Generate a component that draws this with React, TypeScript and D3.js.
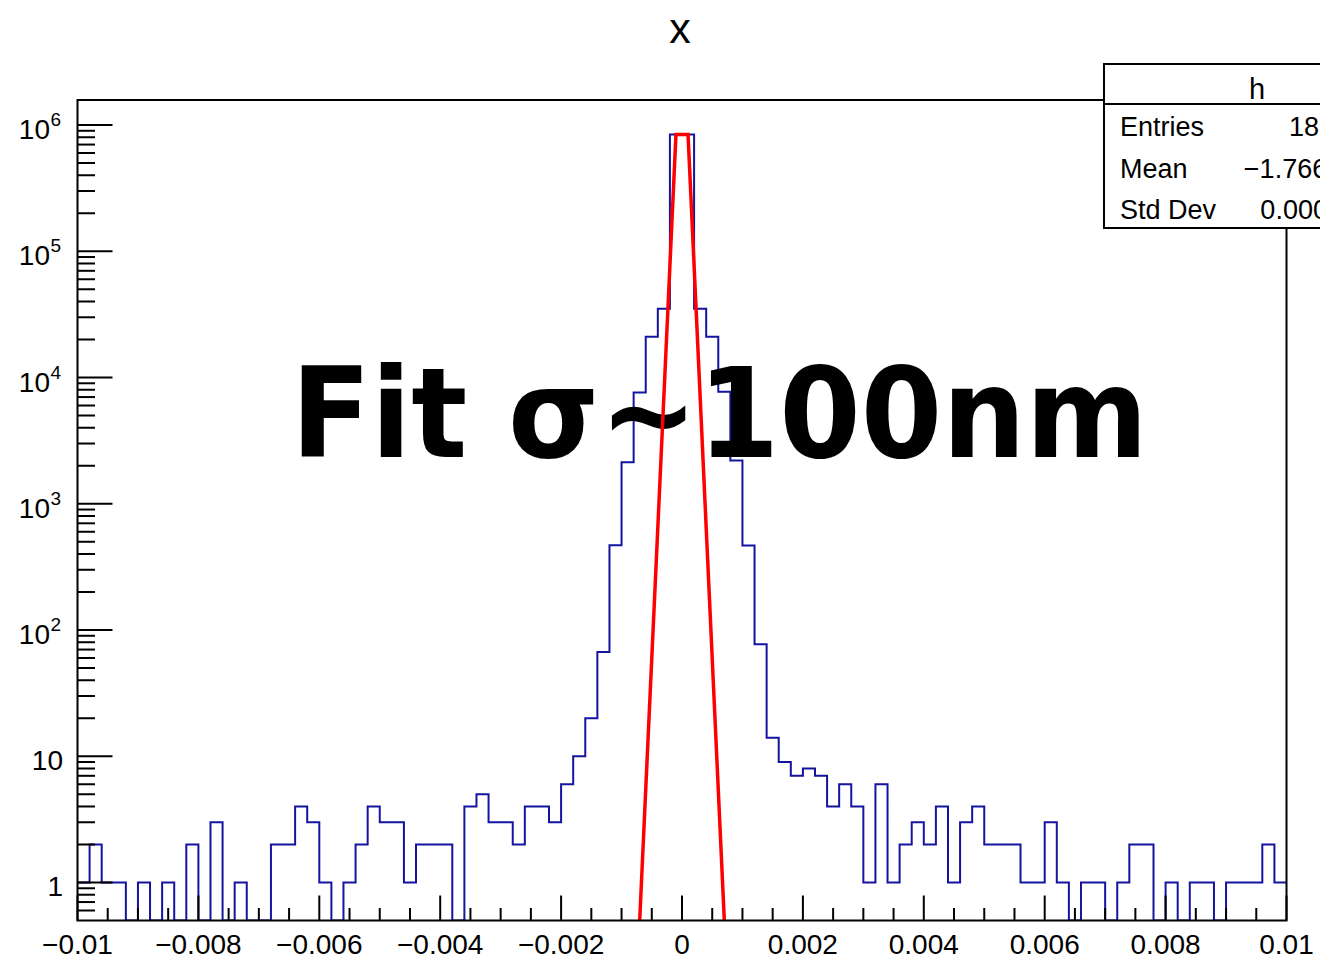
import React from "react";
import * as d3 from "d3";

// Histogram "h": 100 bins on [-0.01, 0.01]
const xMin = -0.01;
const xMax = 0.01;
const counts = [
  1, 2, 1, 1, 0, 1, 0, 1, 0, 2,
  0, 3, 0, 1, 0, 0, 2, 2, 4, 3,
  1, 0, 1, 2, 4, 3, 3, 1, 2, 2,
  2, 0, 4, 5, 3, 3, 2, 4, 4, 3,
  6, 10, 20, 67, 470, 2130, 7600, 21000, 35000, 840000,
  840000, 35000, 21000, 7700, 2200, 466, 77, 14, 9, 7,
  8, 7, 4, 6, 4, 1, 6, 1, 2, 3,
  2, 4, 1, 3, 4, 2, 2, 2, 1, 1,
  3, 1, 0, 1, 1, 0, 1, 2, 2, 0,
  1, 0, 1, 1, 0, 1, 1, 1, 2, 1,
];

// Gaussian fit curve as drawn (polyline points)
const fitX = [-0.0007, -0.0001, 0.0001, 0.0007];
const fitY = [0.5, 840000, 840000, 0.5];

const xTickValues = [-0.01, -0.008, -0.006, -0.004, -0.002, 0, 0.002, 0.004, 0.006, 0.008, 0.01];
const xTickLabels = ["\u22120.01", "\u22120.008", "\u22120.006", "\u22120.004", "\u22120.002", "0", "0.002", "0.004", "0.006", "0.008", "0.01"];
const yDecades = [1, 10, 100, 1e3, 1e4, 1e5, 1e6];
const yLabelBase = ["1", "10", "10", "10", "10", "10", "10"];
const yLabelExp = ["", "", "2", "3", "4", "5", "6"];

const statsTitle = "h";
const statsNames = ["Entries", "Mean", "Std Dev"];
const entries = counts.reduce((a, b) => a + b, 0);
const statsValues = [String(entries), "\u22121.766e\u221207", "0.0001094"];

const title = "x";
const annotation = "Fit \u03c3~100nm";

const W = 1320;
const H = 959;
const L = 77.5;
const R = 1286.5;
const T = 100;
const B = 920.5;
const FONT = "'Liberation Sans', Arial, Helvetica, sans-serif";

export default function App() {
  const x = d3.scaleLinear().domain([xMin, xMax]).range([L, R]);
  const y = d3.scaleLog().domain([0.5, 1.578e6]).range([B, T]);
  const nb = counts.length;
  const bw = (xMax - xMin) / nb;

  const yv = (c: number) => (c > 0 ? y(c) : B);
  const histPts: [number, number][] = counts.map((c, i) => [x(xMin + i * bw), yv(c)]);
  histPts.push([x(xMax), yv(counts[nb - 1])]);
  const histPath = d3.line().curve(d3.curveStepAfter)(histPts) || "";

  const fitPath =
    d3
      .line<number>()
      .x((_, i) => x(fitX[i]))
      .y((v) => y(v))(fitY) || "";

  // y minor ticks
  const yMinor: number[] = [];
  for (let e = -1; e <= 6; e++) {
    for (let k = 2; k <= 9; k++) {
      const v = k * Math.pow(10, e);
      if (v > 0.5 && v < 1.578e6) yMinor.push(v);
    }
  }
  // x minor ticks every 0.0005
  const xMinor: number[] = [];
  for (let i = 0; i <= 40; i++) {
    if (i % 4 !== 0) xMinor.push(xMin + i * 0.0005);
  }

  return (
    <svg
      width={W}
      height={H}
      style={{ position: "absolute", left: 0, top: 0, background: "#fff" }}
      fontFamily={FONT}
    >
      <rect x={0} y={0} width={W} height={H} fill="#fff" />
      <defs>
        <clipPath id="frameClip">
          <rect x={L} y={T} width={R - L} height={B - T} />
        </clipPath>
      </defs>

      <text x={680} y={43} fontSize={43} textAnchor="middle" fill="#000">
        {title}
      </text>

      {/* histogram */}
      <path d={histPath} fill="none" stroke="#1414a0" strokeWidth={2} clipPath="url(#frameClip)" />

      {/* overlaid annotation */}
      <text
        x={291}
        y={457}
        fontFamily="'DejaVu Sans', sans-serif"
        fontWeight="bold"
        fontSize={125}
        textLength={857}
        lengthAdjust="spacingAndGlyphs"
        fill="#000"
      >
        {annotation}
      </text>

      {/* fit function */}
      <path d={fitPath} fill="none" stroke="#ff0000" strokeWidth={3.5} clipPath="url(#frameClip)" />

      {/* frame */}
      <rect x={L} y={T} width={R - L} height={B - T} fill="none" stroke="#000" strokeWidth={2} />

      {/* x axis ticks */}
      {xTickValues.map((v) => (
        <line key={"xM" + v} x1={x(v)} x2={x(v)} y1={B} y2={B - 25} stroke="#000" strokeWidth={2} />
      ))}
      {xMinor.map((v, i) => (
        <line key={"xm" + i} x1={x(v)} x2={x(v)} y1={B} y2={B - 12.5} stroke="#000" strokeWidth={2} />
      ))}
      {xTickValues.map((v, i) => (
        <text key={"xl" + i} x={x(v)} y={954} fontSize={28} textAnchor="middle" fill="#000">
          {xTickLabels[i]}
        </text>
      ))}

      {/* y axis ticks */}
      {yDecades.map((v) => (
        <line key={"yM" + v} x1={L} x2={L + 35} y1={y(v)} y2={y(v)} stroke="#000" strokeWidth={2} />
      ))}
      {yMinor.map((v, i) => (
        <line key={"ym" + i} x1={L} x2={L + 17.5} y1={y(v)} y2={y(v)} stroke="#000" strokeWidth={2} />
      ))}
      {yDecades.map((v, i) =>
        yLabelExp[i] === "" ? (
          <text key={"yl" + i} x={63} y={y(v) + 14} fontSize={28} textAnchor="end" fill="#000">
            {yLabelBase[i]}
          </text>
        ) : (
          <g key={"yl" + i}>
            <text x={50} y={y(v) + 14} fontSize={28} textAnchor="end" fill="#000">
              {yLabelBase[i]}
            </text>
            <text x={50.5} y={y(v) + 1} fontSize={19} textAnchor="start" fill="#000">
              {yLabelExp[i]}
            </text>
          </g>
        )
      )}

      {/* statistics box */}
      <g>
        <rect x={1104} y={64} width={306} height={164} fill="#fff" stroke="#000" strokeWidth={2} />
        <line x1={1104} x2={1410} y1={104} y2={104} stroke="#000" strokeWidth={2} />
        <text x={1257} y={99} fontSize={29} textAnchor="middle" fill="#000">
          {statsTitle}
        </text>
        {statsNames.map((n, i) => (
          <g key={n}>
            <text x={1120} y={136 + i * 41.7} fontSize={27} fill="#000">
              {n}
            </text>
            <text x={i === 0 ? 1394 : 1388} y={136 + i * 41.7} fontSize={27} textAnchor="end" fill="#000">
              {statsValues[i]}
            </text>
          </g>
        ))}
      </g>
    </svg>
  );
}
